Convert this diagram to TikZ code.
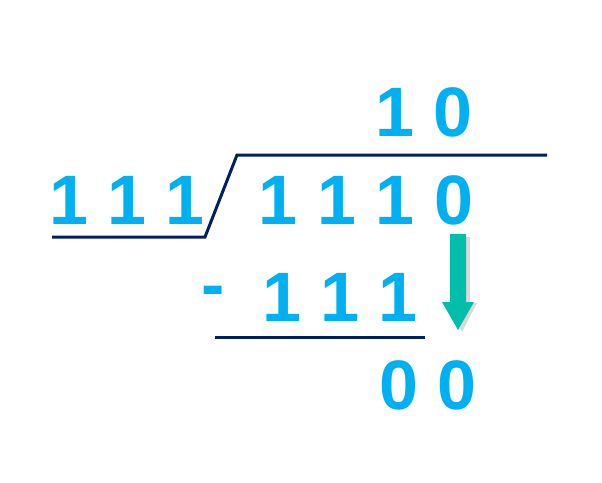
\documentclass[tikz,border=0pt]{standalone}
\usepackage{fontspec}
\setmainfont{Liberation Sans}
\definecolor{digitblue}{RGB}{0,176,240}
\definecolor{barnavy}{RGB}{0,32,96}
\definecolor{arrowteal}{RGB}{0,190,170}
\tikzset{
    digits/.style = {
        text=digitblue,
        font=\fontsize{70}{70}\selectfont\bfseries,
        inner sep=0pt,
        },
    bar/.style = {
        draw=barnavy,
        line width=3pt,
        },
}
\begin{document}
\begin{tikzpicture}[x=1pt,y=-1pt]
    \useasboundingbox (0,0) rectangle (602,482);
    \node[digits] (quot) at (424,112) {1 0};
    \node[digits] (divisor) at (127,200) {1 1 1};
    \node[digits] (dividend) at (366,200) {1 1 1 0};
    \node[digits] (minus) at (213,297) {-};
    \node[digits] (sub) at (340,297) {1 1 1};
    \node[digits] (rest) at (428,385) {0 0};

    \coordinate (topR) at (547,155);
    \coordinate (topL) at (237,155);
    \coordinate (slashB) at (205,237);
    \coordinate (baseL) at (52,237);
    \coordinate (subL) at (215,337);
    \coordinate (subR) at (425,337);
    \draw[bar] (topR) -- (topL) -- (slashB) -- (baseL);
    \draw[bar] (subL) -- (subR);

    % carried digit
    \fill[gray!30] (455,237) -- (470,237) -- (470,303) -- (477,303) -- (462,332) -- (447,303) -- (455,303) -- cycle;
    \fill[arrowteal] (450,234) -- (466,234) -- (466,302) -- (474,302) -- (458,330) -- (442,302) -- (450,302) -- cycle;
\end{tikzpicture}
\end{document}
